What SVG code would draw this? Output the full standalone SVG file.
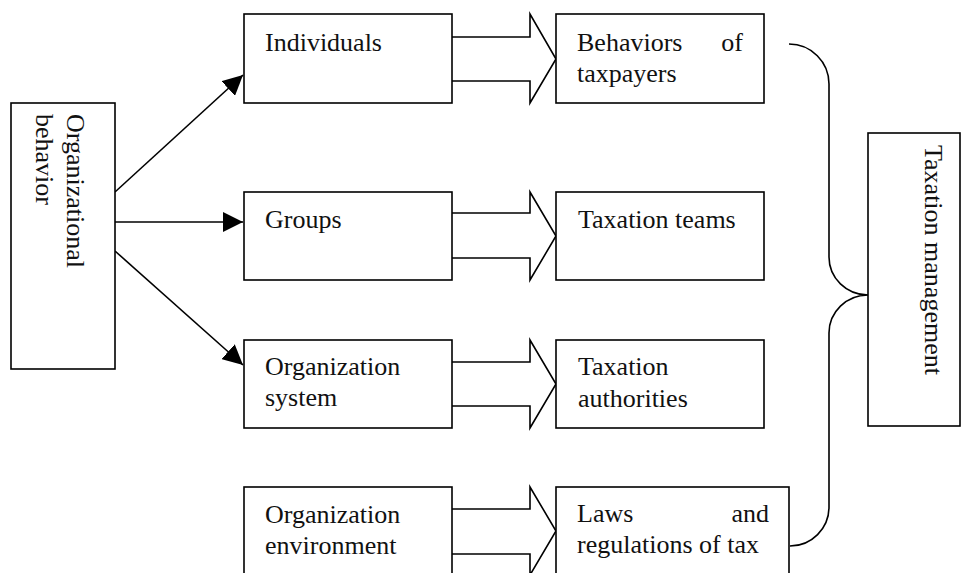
<svg xmlns="http://www.w3.org/2000/svg" width="961" height="573" viewBox="0 0 961 573">
  <style>
    .box { fill: #fff; stroke: #000; stroke-width: 1.6; }
    .line { fill: none; stroke: #000; stroke-width: 1.6; }
    .block { fill: #fff; stroke: #000; stroke-width: 1.6; stroke-linejoin: miter; }
    text { font-family: "Liberation Serif", "Times New Roman", serif; font-size: 26px; fill: #111; }
  </style>
  <defs>
    <marker id="head" viewBox="0 0 20 20" refX="20" refY="10" markerWidth="20" markerHeight="20" markerUnits="userSpaceOnUse" orient="auto">
      <path d="M0,0 L20,10 L0,20 Z" fill="#000"/>
    </marker>
  </defs>
  <rect width="961" height="573" fill="#fff"/>

  <!-- arrows and brace -->
  <g id="connectors">
    <line class="line" x1="115" y1="192" x2="243" y2="75" marker-end="url(#head)"/>
    <line class="line" x1="115" y1="222" x2="243" y2="222" marker-end="url(#head)"/>
    <line class="line" x1="115" y1="251" x2="243" y2="365" marker-end="url(#head)"/>

    <path class="block" d="M452,37 L530,37 L530,14 L556,59 L530,103 L530,81 L452,81"/>
    <path class="block" d="M452,213 L530,213 L530,192 L556,236 L530,280 L530,258 L452,258"/>
    <path class="block" d="M452,362 L530,362 L530,340 L556,384 L530,428 L530,406 L452,406"/>
    <path class="block" d="M452,509 L530,509 L530,487 L556,531 L530,575 L530,554 L452,554"/>

    <path class="line" d="M789,44 A40,40 0 0 1 829,84 L829,257 A39,38 0 0 0 868,295 A39,38 0 0 0 829,333 L829,507 A39,39 0 0 1 790,546"/>
  </g>

  <g id="organizational-behavior">
    <rect class="box" x="11" y="103" width="104" height="266"/>
    <text transform="translate(67,114) rotate(90)">Organizational</text>
    <text transform="translate(36,114) rotate(90)">behavior</text>
  </g>

  <g id="individuals">
    <rect class="box" x="244" y="14" width="208" height="89"/>
    <text x="265" y="51">Individuals</text>
  </g>
  <g id="groups">
    <rect class="box" x="244" y="192" width="208" height="88"/>
    <text x="265" y="228">Groups</text>
  </g>
  <g id="organization-system">
    <rect class="box" x="244" y="340" width="208" height="88"/>
    <text x="265" y="375">Organization</text>
    <text x="265" y="406">system</text>
  </g>
  <g id="organization-environment">
    <rect class="box" x="244" y="487" width="208" height="100"/>
    <text x="265" y="523">Organization</text>
    <text x="265" y="554">environment</text>
  </g>

  <g id="behaviors-of-taxpayers">
    <rect class="box" x="556" y="14" width="208" height="89"/>
    <text x="577" y="51">Behaviors</text>
    <text x="743" y="51" text-anchor="end">of</text>
    <text x="577" y="82">taxpayers</text>
  </g>
  <g id="taxation-teams">
    <rect class="box" x="556" y="192" width="208" height="88"/>
    <text x="578" y="228">Taxation teams</text>
  </g>
  <g id="taxation-authorities">
    <rect class="box" x="556" y="340" width="208" height="88"/>
    <text x="578" y="375">Taxation</text>
    <text x="578" y="407">authorities</text>
  </g>
  <g id="laws-and-regulations">
    <rect class="box" x="556" y="487" width="233" height="100"/>
    <text x="577" y="522">Laws</text>
    <text x="769" y="522" text-anchor="end">and</text>
    <text x="577" y="553">regulations of tax</text>
  </g>

  <g id="taxation-management">
    <rect class="box" x="868" y="133" width="92" height="293"/>
    <text transform="translate(925,145) rotate(90)">Taxation management</text>
  </g>
</svg>
